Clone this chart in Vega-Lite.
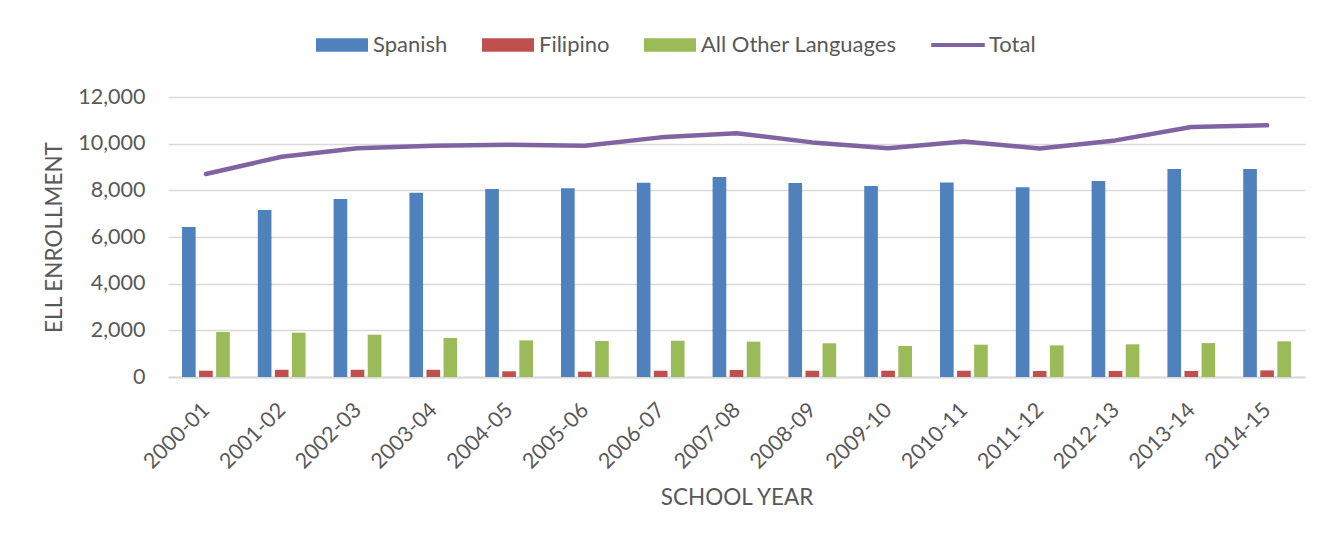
{
  "$schema": "https://vega.github.io/schema/vega-lite/v6.json",
  "width": 1137,
  "height": 280,
  "autosize": {"type": "none"},
  "padding": {"left": 168, "top": 97, "right": 30, "bottom": 164},
  "background": "white",
  "data": {
    "values": [
      {"year": "2000-01", "series": "Spanish", "value": 6430},
      {"year": "2001-02", "series": "Spanish", "value": 7160},
      {"year": "2002-03", "series": "Spanish", "value": 7630},
      {"year": "2003-04", "series": "Spanish", "value": 7900},
      {"year": "2004-05", "series": "Spanish", "value": 8060},
      {"year": "2005-06", "series": "Spanish", "value": 8090},
      {"year": "2006-07", "series": "Spanish", "value": 8330},
      {"year": "2007-08", "series": "Spanish", "value": 8570},
      {"year": "2008-09", "series": "Spanish", "value": 8310},
      {"year": "2009-10", "series": "Spanish", "value": 8190},
      {"year": "2010-11", "series": "Spanish", "value": 8340},
      {"year": "2011-12", "series": "Spanish", "value": 8130},
      {"year": "2012-13", "series": "Spanish", "value": 8400},
      {"year": "2013-14", "series": "Spanish", "value": 8910},
      {"year": "2014-15", "series": "Spanish", "value": 8910},
      {"year": "2000-01", "series": "Filipino", "value": 270},
      {"year": "2001-02", "series": "Filipino", "value": 310},
      {"year": "2002-03", "series": "Filipino", "value": 310},
      {"year": "2003-04", "series": "Filipino", "value": 310},
      {"year": "2004-05", "series": "Filipino", "value": 245},
      {"year": "2005-06", "series": "Filipino", "value": 230},
      {"year": "2006-07", "series": "Filipino", "value": 270},
      {"year": "2007-08", "series": "Filipino", "value": 300},
      {"year": "2008-09", "series": "Filipino", "value": 270},
      {"year": "2009-10", "series": "Filipino", "value": 270},
      {"year": "2010-11", "series": "Filipino", "value": 270},
      {"year": "2011-12", "series": "Filipino", "value": 257},
      {"year": "2012-13", "series": "Filipino", "value": 257},
      {"year": "2013-14", "series": "Filipino", "value": 257},
      {"year": "2014-15", "series": "Filipino", "value": 284},
      {"year": "2000-01", "series": "All Other Languages", "value": 1930},
      {"year": "2001-02", "series": "All Other Languages", "value": 1900},
      {"year": "2002-03", "series": "All Other Languages", "value": 1815},
      {"year": "2003-04", "series": "All Other Languages", "value": 1670},
      {"year": "2004-05", "series": "All Other Languages", "value": 1570},
      {"year": "2005-06", "series": "All Other Languages", "value": 1545},
      {"year": "2006-07", "series": "All Other Languages", "value": 1555},
      {"year": "2007-08", "series": "All Other Languages", "value": 1515},
      {"year": "2008-09", "series": "All Other Languages", "value": 1445},
      {"year": "2009-10", "series": "All Other Languages", "value": 1330},
      {"year": "2010-11", "series": "All Other Languages", "value": 1385},
      {"year": "2011-12", "series": "All Other Languages", "value": 1355},
      {"year": "2012-13", "series": "All Other Languages", "value": 1400},
      {"year": "2013-14", "series": "All Other Languages", "value": 1455},
      {"year": "2014-15", "series": "All Other Languages", "value": 1530},
      {"year": "2000-01", "series": "Total", "value": 8700},
      {"year": "2001-02", "series": "Total", "value": 9440},
      {"year": "2002-03", "series": "Total", "value": 9800},
      {"year": "2003-04", "series": "Total", "value": 9915},
      {"year": "2004-05", "series": "Total", "value": 9955},
      {"year": "2005-06", "series": "Total", "value": 9915},
      {"year": "2006-07", "series": "Total", "value": 10270},
      {"year": "2007-08", "series": "Total", "value": 10445},
      {"year": "2008-09", "series": "Total", "value": 10055},
      {"year": "2009-10", "series": "Total", "value": 9800},
      {"year": "2010-11", "series": "Total", "value": 10095},
      {"year": "2011-12", "series": "Total", "value": 9795},
      {"year": "2012-13", "series": "Total", "value": 10140},
      {"year": "2013-14", "series": "Total", "value": 10715},
      {"year": "2014-15", "series": "Total", "value": 10785}
    ]
  },
  "encoding": {
    "x": {
      "field": "year",
      "type": "nominal",
      "sort": null,
      "scale": {"paddingInner": 0.37, "paddingOuter": 0.185},
      "axis": {
        "title": "SCHOOL YEAR",
        "labelAngle": -45,
        "labelAlign": "right",
        "labelBaseline": "top",
        "labelPadding": 22,
        "labelOffset": -7,
        "ticks": false,
        "tickSize": 0,
        "domain": true,
        "domainColor": "#d9d9d9",
        "domainWidth": 2,
        "grid": false,
        "titleY": 127,
        "titleBaseline": "alphabetic"
      }
    },
    "y": {
      "field": "value",
      "type": "quantitative",
      "scale": {"domain": [0, 12000], "nice": false},
      "axis": {
        "title": "ELL ENROLLMENT",
        "values": [0, 2000, 4000, 6000, 8000, 10000, 12000],
        "format": ",d",
        "domain": false,
        "ticks": false,
        "tickSize": 0,
        "labelPadding": 23,
        "grid": true,
        "gridColor": "#d9d9d9",
        "gridWidth": 1.4,
        "titleX": -107,
        "titleY": 140,
        "titleBaseline": "alphabetic",
        "titleAngle": -90
      }
    },
    "color": {
      "field": "series",
      "type": "nominal",
      "scale": {
        "domain": ["Spanish", "Filipino", "All Other Languages", "Total"],
        "range": ["#4F81BD", "#C0504D", "#9BBB59", "#8064A2"]
      },
      "legend": {
        "title": null,
        "orient": "none",
        "direction": "horizontal",
        "legendX": 148,
        "legendY": -78,
        "symbolSize": 2704,
        "symbolOpacity": 1,
        "symbolStrokeWidth": 0,
        "labelOffset": 5,
        "labelLimit": 0,
        "columnPadding": 34,
        "labelFont": "Lato",
        "labelFontSize": 22,
        "labelColor": "#595959"
      }
    }
  },
  "layer": [
    {
      "transform": [{"filter": "datum.series !== 'Total'"}],
      "mark": {"type": "bar"},
      "encoding": {
        "xOffset": {
          "field": "series",
          "type": "nominal",
          "sort": ["Spanish", "Filipino", "All Other Languages"],
          "scale": {"paddingInner": 0.2, "paddingOuter": 0}
        }
      }
    },
    {
      "transform": [{"filter": "datum.series === 'Total'"}],
      "mark": {"type": "line", "strokeWidth": 4.5, "strokeCap": "round", "strokeJoin": "round"},
      "encoding": {}
    },
    {
      "transform": [{"filter": "false"}],
      "mark": {"type": "point", "filled": true, "opacity": 1},
      "encoding": {
        "shape": {
          "field": "series",
          "type": "nominal",
          "scale": {
            "domain": ["Spanish", "Filipino", "All Other Languages", "Total"],
            "range": [
              "M-1,-0.256H1V0.256H-1Z",
              "M-1,-0.256H1V0.256H-1Z",
              "M-1,-0.256H1V0.256H-1Z",
              "M-1.03,-0.077H1.03V0.077H-1.03Z"
            ]
          }
        }
      }
    }
  ],
  "config": {
    "view": {"stroke": null},
    "font": "Lato",
    "axis": {
      "labelFont": "Lato",
      "labelFontSize": 21.5,
      "labelColor": "#595959",
      "titleFont": "Lato",
      "titleFontSize": 22.5,
      "titleFontWeight": "normal",
      "titleColor": "#595959"
    }
  }
}
